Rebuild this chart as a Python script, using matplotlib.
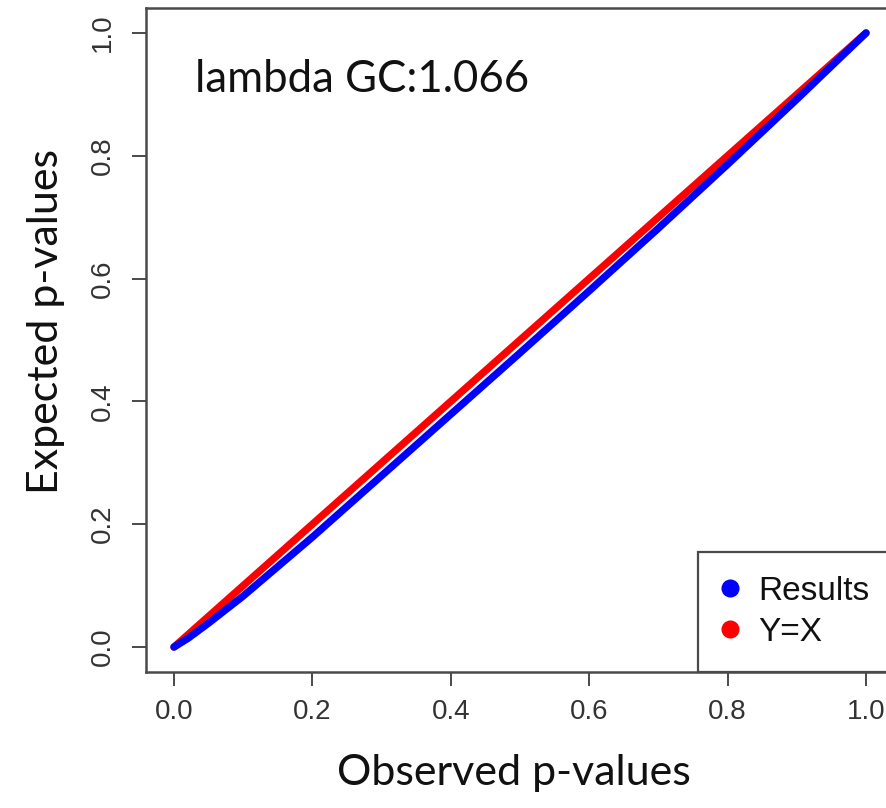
import matplotlib
matplotlib.use("Agg")
import matplotlib.pyplot as plt
from matplotlib.lines import Line2D

# Data
observed = [0.0, 0.02, 0.05, 0.1, 0.2, 0.3, 0.4, 0.5, 0.6, 0.7, 0.8, 0.9, 1.0]
expected = [0.0, 0.014, 0.039, 0.083, 0.179, 0.279, 0.379, 0.479, 0.580, 0.682, 0.786, 0.892, 1.0]
ref_x = [0.0, 1.0]
ref_y = [0.0, 1.0]
tick_vals = [0.0, 0.2, 0.4, 0.6, 0.8, 1.0]
tick_labels = ["0.0", "0.2", "0.4", "0.6", "0.8", "1.0"]
lambda_text = "lambda GC:1.066"

W, H = 887, 808
fig = plt.figure(figsize=(W / 100, H / 100), dpi=100)
ax = fig.add_axes([146.3 / W, 1 - 671.6 / H, 747.4 / W, 663.2 / H])

ax.plot(ref_x, ref_y, color="#ff0000", lw=5.3, solid_capstyle="round", zorder=2)
ax.plot(observed, expected, color="#0000ff", lw=5.3, solid_capstyle="round",
        solid_joinstyle="round", zorder=3)

ax.set_xlim(-0.04, 1.04)
ax.set_ylim(-0.04, 1.04)

spine_col = "#4a4a4a"
for s in ax.spines.values():
    s.set_color(spine_col)
    s.set_linewidth(1.8)

ax.set_xticks(tick_vals)
ax.set_xticklabels(tick_labels)
ax.set_yticks(tick_vals)
ax.set_yticklabels(tick_labels)
ax.tick_params(axis="both", length=10, width=1.4, color=spine_col, labelcolor="#333333",
               labelsize=20, direction="out")
ax.tick_params(axis="x", pad=10)
ax.tick_params(axis="y", pad=21)
for lab in ax.get_xticklabels() + ax.get_yticklabels():
    lab.set_family(["Liberation Sans", "DejaVu Sans"])
for lab in ax.get_yticklabels():
    lab.set_rotation(90)
    lab.set_va("center")
    lab.set_ha("center")
    lab.set_rotation_mode("anchor")

label_font = ["Lato", "DejaVu Sans"]
ax.set_xlabel("Observed p-values", fontsize=31, family=label_font, color="#111111")
ax.set_ylabel("Expected p-values", fontsize=31, family=label_font, color="#111111")
ax.xaxis.set_label_coords((514 - 146.3) / 747.4, -(773 - 671.6) / 663.2)
ax.yaxis.set_label_coords(-(146.3 - 46) / 747.4, (671.6 - 322) / 663.2)
ax.xaxis.label.set_va("center")
ax.yaxis.label.set_va("center")

ax.text((195 - 146.3) / 747.4, 1 - (80 - 8.4) / 663.2, lambda_text, fontsize=31.5,
        family=label_font, color="#111111", transform=ax.transAxes, ha="left", va="center")

h_res = Line2D([], [], marker="o", ls="", color="#0000ff", markersize=12)
h_yx = Line2D([], [], marker="o", ls="", color="#ff0000", markersize=12)
leg = ax.legend([h_res, h_yx], ["Results", "Y=X"], loc="lower right", bbox_to_anchor=(1, 0),
                borderaxespad=0, fancybox=False, frameon=True, edgecolor=spine_col,
                prop={"family": ["Liberation Sans", "DejaVu Sans"], "size": 24},
                borderpad=0.72, labelspacing=0.3, handlelength=0.5, handletextpad=0.6,
                framealpha=1)
leg.get_frame().set_linewidth(1.6)
for t in leg.get_texts():
    t.set_color("#111111")

fig.savefig("out.png", dpi=100)
